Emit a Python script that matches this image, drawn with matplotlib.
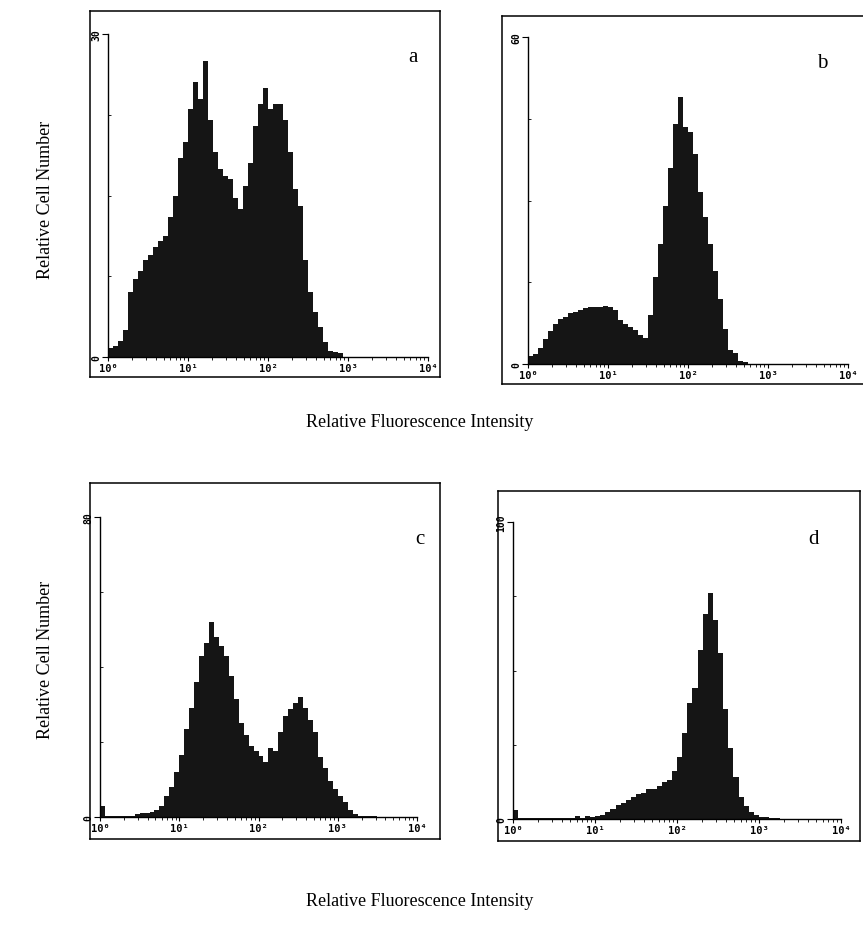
import numpy as np
import matplotlib
matplotlib.use("Agg")
import matplotlib.pyplot as plt

W, H = 863, 945

# channel counts, 16 channels per decade from 10^0 upward
counts_a = [0.8, 1.0, 1.5, 2.5, 6, 7.2, 8, 9, 9.5, 10.2, 10.8, 11.2, 13, 15, 18.5, 20,
            23, 25.5, 24, 27.5, 22, 19, 17.5, 16.8, 16.5, 14.8, 13.7, 15.9, 18, 21.5, 23.5, 25,
            23, 23.5, 23.5, 22, 19, 15.6, 14, 9, 6, 4.2, 2.8, 1.4, 0.6, 0.5, 0.4]
counts_b = [1.5, 1.8, 3.0, 4.5, 6, 7.3, 8.2, 8.6, 9.3, 9.6, 10, 10.3, 10.4, 10.5, 10.5, 10.7,
            10.5, 10.0, 8.0, 7.4, 6.8, 6.2, 5.4, 4.8, 9, 16, 22, 29, 36, 44, 49, 43.5,
            42.5, 38.5, 31.5, 27, 22, 17, 12, 6.5, 2.5, 2.1, 0.6, 0.4]
counts_c = [3, 0.3, 0.2, 0.2, 0.2, 0.3, 0.4, 0.8, 1.0, 1.1, 1.3, 1.8, 3, 5.5, 8, 12,
            16.5, 23.5, 29, 36, 43, 46.5, 52, 48, 45.5, 43, 37.5, 31.5, 25, 22, 19, 17.7,
            16.4, 14.6, 18.5, 17.5, 22.6, 27, 28.8, 30.5, 32, 29, 26, 22.6, 16, 13, 9.5, 7.5,
            5.5, 4, 2, 0.9, 0.4, 0.2, 0.4, 0.3]
counts_d = [3, 0.4, 0.3, 0.3, 0.2, 0.2, 0.2, 0.3, 0.3, 0.2, 0.3, 0.4, 0.9, 0.5, 0.9, 0.7,
            1.0, 1.5, 2.4, 3.5, 4.6, 5.5, 6.5, 7.5, 8.5, 8.8, 10, 10, 11, 12.4, 13, 16,
            21, 29, 39, 44, 57, 69, 76, 67, 56, 37, 24, 14, 7.5, 4.5, 2.4, 1.3,
            0.8, 0.6, 0.5, 0.2]

ymax = [30, 60, 80, 100]
letters = ["a", "b", "c", "d"]
xtick_labels = ["10\u2070", "10\u00b9", "10\u00b2", "10\u00b3", "10\u2074"]

# pixel boxes: frame (l, t, r, b) and inner axes (x of 10^0, top, x of 10^4, zero line)
frames = [(90, 12, 440, 378), (502, 17, 875, 385), (90, 484, 440, 840), (498, 492, 860, 842)]
inners = [(108, 35, 428, 358), (528, 38, 848, 365), (100, 518, 417, 818), (513, 523, 841, 820)]
letter_pos = [(413, 57), (822, 63), (420, 540), (813, 540)]

fig = plt.figure(figsize=(W / 100, H / 100), dpi=100)


def px_axes(l, t, r, b):
    return fig.add_axes([l / W, 1 - b / H, (r - l) / W, (b - t) / H])


for i, counts in enumerate([counts_a, counts_b, counts_c, counts_d]):
    fr = px_axes(*frames[i])
    fr.set_xticks([])
    fr.set_yticks([])
    fr.set_zorder(0)
    for s in fr.spines.values():
        s.set_linewidth(1.1)

    ax = px_axes(*inners[i])
    ax.set_zorder(1)
    ax.patch.set_alpha(0)
    edges = 10 ** (np.arange(len(counts) + 1) / 16)
    ax.stairs(counts, edges, fill=True, color="#151515", lw=0)
    ax.set_xscale("log")
    ax.set_xlim(1, 1e4)
    ax.set_ylim(0, ymax[i])
    ax.spines["top"].set_visible(False)
    ax.spines["right"].set_visible(False)
    ax.spines["left"].set_linewidth(1.0)
    ax.spines["bottom"].set_linewidth(1.0)
    ax.set_xticks([1, 10, 100, 1000, 10000])
    ax.set_xticklabels(xtick_labels, fontsize=7.5, fontweight="bold", family="DejaVu Sans Mono")
    ax.tick_params(axis="x", which="major", length=3, pad=1)
    ax.tick_params(axis="x", which="minor", length=2)
    ax.set_xticks(np.concatenate([np.arange(2, 10) * 10.0 ** k for k in range(4)]), minor=True)
    ax.set_yticks([0, ymax[i]])
    ax.set_yticklabels(["0", str(ymax[i])], rotation=90, fontsize=7, va="center",
                       family="DejaVu Sans Mono", fontweight="bold")
    ax.set_yticks([ymax[i] * q / 4 for q in (1, 2, 3)], minor=True)
    ax.tick_params(axis="y", which="major", length=4, pad=1)
    ax.tick_params(axis="y", which="minor", length=2, direction="in")
    lx, ly = letter_pos[i]
    fig.text(lx / W, 1 - ly / H, letters[i], fontsize=15, family="Liberation Serif",
             ha="center", va="center")

for yc in (200, 660):
    fig.text(45 / W, 1 - yc / H, "Relative Cell Number", rotation=90, fontsize=13,
             family="Liberation Serif", ha="center", va="center")
for yc in (423, 902):
    fig.text(420 / W, 1 - yc / H, "Relative Fluorescence Intensity", fontsize=13,
             family="Liberation Serif", ha="center", va="center")

fig.savefig("out.png", dpi=100)
